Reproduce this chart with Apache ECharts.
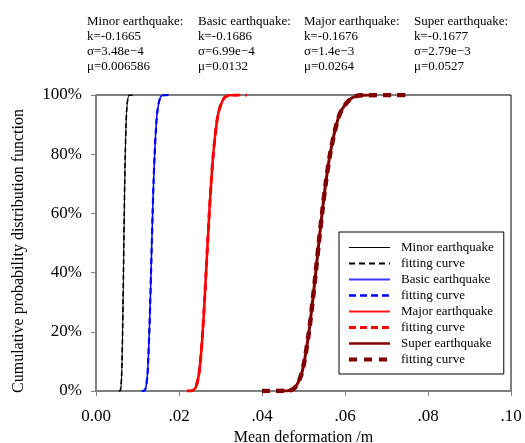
<!DOCTYPE html>
<html>
<head>
<meta charset="utf-8">
<script src="https://cdn.jsdelivr.net/npm/echarts@6/dist/echarts.min.js"></script>
<style>html,body{margin:0;padding:0;background:#fff}#c{width:525px;height:443px}</style>
</head>
<body>
<div id="c"></div>
<script>
// Cumulative probability levels (%) shared by all curves
const prob = [0, 0.1, 1, 5, 10, 20, 30, 40, 50, 60, 70, 80, 90, 95, 99, 99.9, 100];

// Mean deformation (m)
const minorData = [0.00560, 0.00579, 0.00598, 0.00617, 0.00627, 0.00641, 0.00652, 0.00662, 0.00671, 0.00681, 0.00692, 0.00705, 0.00724, 0.00740, 0.00770, 0.00801, 0.00830];
const minorFit  = [0.00550, 0.00579, 0.00598, 0.00617, 0.00627, 0.00641, 0.00652, 0.00662, 0.00671, 0.00681, 0.00692, 0.00705, 0.00724, 0.00740, 0.00770, 0.00801, 0.00885];
const basicData = [0.01120, 0.01160, 0.01198, 0.01236, 0.01257, 0.01285, 0.01307, 0.01326, 0.01345, 0.01364, 0.01386, 0.01413, 0.01451, 0.01484, 0.01544, 0.01606, 0.01680];
const basicFit  = [0.01100, 0.01160, 0.01198, 0.01236, 0.01257, 0.01285, 0.01307, 0.01326, 0.01345, 0.01364, 0.01386, 0.01413, 0.01451, 0.01484, 0.01544, 0.01606, 0.01790];
const majorData = [0.02250, 0.02320, 0.02396, 0.02471, 0.02515, 0.02571, 0.02614, 0.02652, 0.02690, 0.02729, 0.02773, 0.02826, 0.02902, 0.02968, 0.03089, 0.03213, 0.03400];
const majorFit  = [0.02190, 0.02320, 0.02396, 0.02471, 0.02515, 0.02571, 0.02614, 0.02652, 0.02690, 0.02729, 0.02773, 0.02826, 0.02902, 0.02968, 0.03089, 0.03213, 0.03640];
const superData = [0.04500, 0.04633, 0.04784, 0.04934, 0.05020, 0.05132, 0.05217, 0.05294, 0.05369, 0.05447, 0.05534, 0.05640, 0.05793, 0.05923, 0.06164, 0.06411, 0.06600];
const superFit  = [0.04000, 0.04633, 0.04784, 0.04934, 0.05020, 0.05132, 0.05217, 0.05294, 0.05369, 0.05447, 0.05534, 0.05640, 0.05793, 0.05923, 0.06164, 0.06411, 0.07540];

const seriesNames = ['Minor earthquake', 'fitting curve ', 'Basic earthquake', 'fitting curve  ', 'Major earthquake', 'fitting curve   ', 'Super earthquake', 'fitting curve    '];
const legendLabels = ['Minor earthquake', 'fitting curve', 'Basic earthquake', 'fitting curve', 'Major earthquake', 'fitting curve', 'Super earthquake', 'fitting curve'];

const headers = [
  ['Minor earthquake:', 'k=-0.1665', 'σ=3.48e−4', 'μ=0.006586'],
  ['Basic earthquake:', 'k=-0.1686', 'σ=6.99e−4', 'μ=0.0132'],
  ['Major earthquake:', 'k=-0.1676', 'σ=1.4e−3', 'μ=0.0264'],
  ['Super earthquake:', 'k=-0.1677', 'σ=2.79e−3', 'μ=0.0527']
];

const xTicks = { 0: '0.00', 0.02: '.02', 0.04: '.04', 0.06: '.06', 0.08: '.08', 0.1: '.10' };
const yTitle = 'Cumulative probability distribution function';

const FONT = '"Liberation Serif", "Times New Roman", serif';
const pair = (xs) => xs.map((x, i) => [x, prob[i]]);

const styles = [
  { d: minorData, color: '#000000', width: 1, type: 'solid', lg: { color: '#000', width: 1, type: 'solid' } },
  { d: minorFit, color: '#000000', width: 1.6, type: [5, 3], lg: { color: '#000', width: 1.8, type: [6, 4] } },
  { d: basicData, color: '#0000ff', width: 1.5, type: 'solid', lg: { color: '#3a3aff', width: 2, type: 'solid' } },
  { d: basicFit, color: '#0000ff', width: 2.2, type: [6, 4], lg: { color: '#0000ff', width: 2.5, type: [7, 4] } },
  { d: majorData, color: '#ff0000', width: 2.5, type: 'solid', lg: { color: '#ff1a1a', width: 2, type: 'solid' } },
  { d: majorFit, color: '#ff0000', width: 3, type: [7, 5], lg: { color: '#ff0000', width: 3, type: [7, 4] } },
  { d: superData, color: '#800000', width: 3, type: 'solid', lg: { color: '#800000', width: 2.5, type: 'solid' } },
  { d: superFit, color: '#800000', width: 4.5, type: [8, 6], lg: { color: '#800000', width: 4, type: [8, 7] } }
];

const series = styles.map((s, i) => ({
  name: seriesNames[i],
  type: 'line',
  data: pair(s.d),
  symbol: 'none',
  smooth: 0.3,
  color: s.color,
  lineStyle: { color: s.color, width: s.width, type: s.type },
  z: 2 + i,
  animation: false
}));

const chart = echarts.init(document.getElementById('c'), null, { renderer: 'canvas' });
chart.setOption({
  animation: false,
  grid: { left: 96, right: 14, top: 95, bottom: 52, outerBoundsMode: 'none', containLabel: false, show: true, borderColor: '#000', borderWidth: 1, backgroundColor: 'transparent' },
  xAxis: {
    type: 'value', min: 0, max: 0.1, interval: 0.02,
    name: 'Mean deformation /m', nameLocation: 'middle', nameGap: 37,
    nameTextStyle: { fontFamily: FONT, fontSize: 16, color: '#000' },
    axisLine: { lineStyle: { color: '#808080', width: 2 } },
    axisTick: { inside: false, length: 5, lineStyle: { color: '#808080', width: 1 } },
    axisLabel: { fontFamily: FONT, fontSize: 17, color: '#000', margin: 17, formatter: v => xTicks[Math.round(v * 100) / 100] ?? '' },
    splitLine: { show: false }
  },
  yAxis: {
    type: 'value', min: 0, max: 100, interval: 20,
    axisLine: { lineStyle: { color: '#808080', width: 2 } },
    axisTick: { inside: false, length: 5, lineStyle: { color: '#808080', width: 1 } },
    axisLabel: { fontFamily: FONT, fontSize: 17, color: '#000', margin: 14, formatter: '{value}%' },
    splitLine: { show: false }
  },
  legend: {
    orient: 'vertical', left: 339, top: 232,
    padding: [9, 10, 8, 8], itemGap: 3, itemWidth: 41, itemHeight: 14,
    borderColor: '#000', borderWidth: 1, borderRadius: 0, backgroundColor: '#fff',
    itemStyle: { opacity: 0, color: 'transparent', borderWidth: 0 },
    textStyle: { fontFamily: FONT, fontSize: 13, color: '#000', padding: [0, 0, 0, 6] },
    formatter: name => legendLabels[seriesNames.indexOf(name)],
    data: seriesNames.map((n, i) => ({ name: n, lineStyle: styles[i].lg, itemStyle: { opacity: 0 } }))
  },
  graphic: headers.map((h, i) => ({
    type: 'text', left: [87, 198, 304, 414][i], top: 14,
    style: { text: h.join('\n'), font: '13px ' + FONT, lineHeight: 15, fill: '#000' }
  })).concat([{
    type: 'text', x: 19, y: 251, rotation: Math.PI / 2,
    style: { text: yTitle, font: '16px ' + FONT, fill: '#000', align: 'center', verticalAlign: 'middle' }
  }]),
  series
});
</script>
</body>
</html>
